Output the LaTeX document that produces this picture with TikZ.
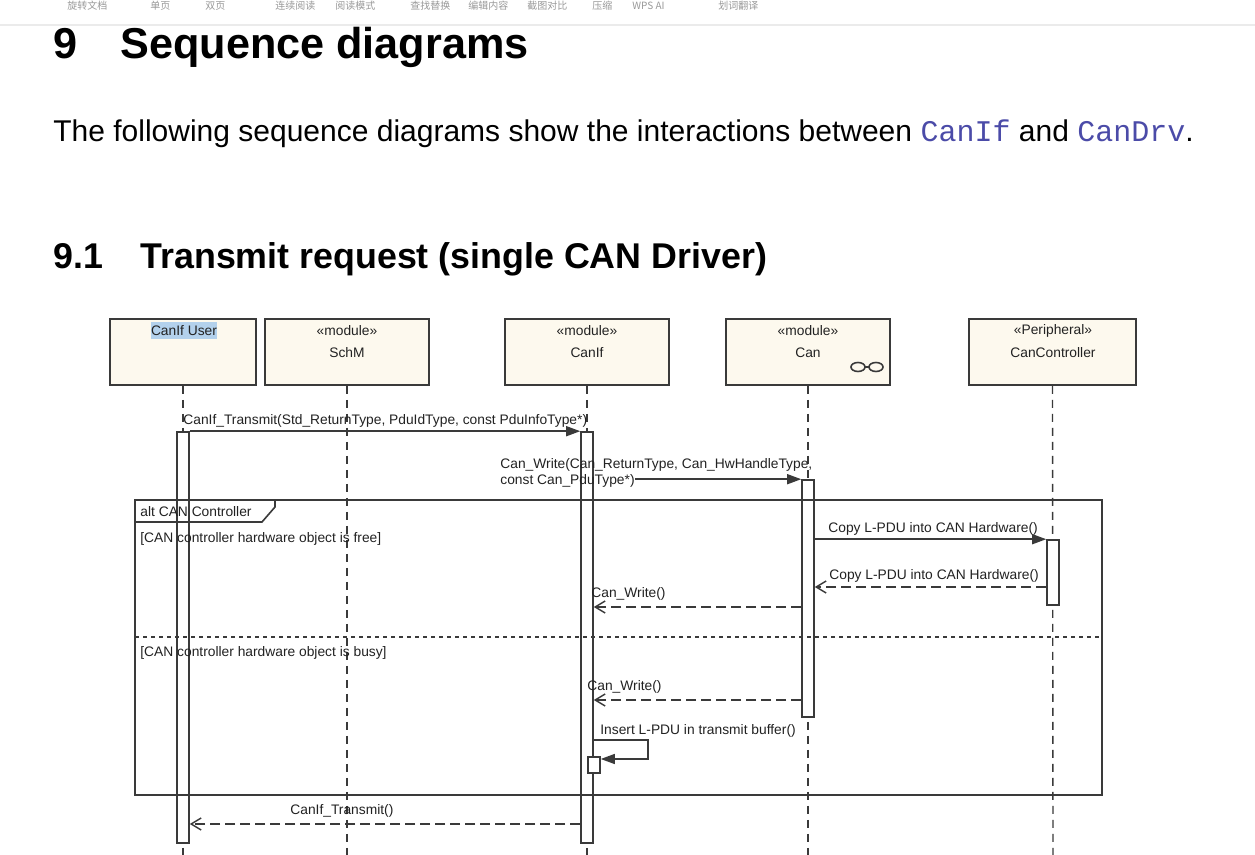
\documentclass[tikz,border=0pt]{standalone}
\usepackage{fontspec}
\setmainfont{Liberation Sans}
\newfontfamily\monofont{Liberation Mono}
\newfontfamily\cjk{Noto Sans CJK SC}
\usetikzlibrary{arrows.meta}
\definecolor{boxfill}{HTML}{FDF9EE}
\definecolor{boxline}{HTML}{3A3A3A}
\definecolor{linec}{HTML}{3A3A3A}
\definecolor{textc}{HTML}{222222}
\definecolor{codec}{HTML}{4B4BA8}
\definecolor{hl}{HTML}{B3D1EC}
\begin{document}
\begin{tikzpicture}[x=0.5pt,y=-0.5pt,
  txt/.style={font=\fontsize{6.9}{8}\selectfont, text=textc, inner sep=0pt},
  lbl/.style={txt, anchor=base west},
  lifebox/.style={draw=boxline, line width=0.9pt, fill=boxfill, inner sep=0pt, minimum height=33pt},
  lifeline/.style={draw=linec, line width=0.7pt, dash pattern=on 4pt off 3pt},
  actbar/.style={draw=linec, line width=0.8pt, fill=white, minimum width=6pt, inner sep=0pt},
  msg/.style={draw=linec, line width=0.7pt, -{Triangle[length=7pt,width=5pt]}},
  ret/.style={draw=linec, line width=0.7pt, dash pattern=on 5pt off 2.5pt, -{Straight Barb[length=5pt,width=6pt]}},
  frame/.style={draw=linec, line width=0.8pt},
  sepline/.style={draw=linec, line width=0.6pt, dash pattern=on 2pt off 2pt},
  tool/.style={font=\cjk\fontsize{5}{6}\selectfont, text=black!40, anchor=base west, inner sep=0pt},
  h1/.style={font=\fontsize{21.6}{25}\selectfont\bfseries, anchor=base west, inner sep=0pt},
  h2/.style={font=\fontsize{17.9}{21}\selectfont\bfseries, anchor=base west, inner sep=0pt},
  bodyt/.style={font=\fontsize{15}{18}\selectfont, anchor=base west, inner sep=0pt},
]
\useasboundingbox (0,0) rectangle (1255,855);
\fill[white] (0,0) rectangle (1255,855);

% toolbar remnant
\node[tool] (t1) at (67,10) {旋转文档};
\node[tool] (t2) at (150,10) {单页};
\node[tool] (t3) at (205,10) {双页};
\node[tool] (t4) at (275,10) {连续阅读};
\node[tool] (t5) at (335,10) {阅读模式};
\node[tool] (t6) at (410,10) {查找替换};
\node[tool] (t7) at (468,10) {编辑内容};
\node[tool] (t8) at (527,10) {截图对比};
\node[tool] (t9) at (592,10) {压缩};
\node[tool] (t10) at (632,10) {WPS AI};
\node[tool] (t11) at (718,10) {划词翻译};
\draw[black!8, line width=0.6pt] (0,25) -- (1255,25);

% headings
\node[h1] (h1n) at (53,59) {9};
\node[h1] (h1t) at (120,59) {Sequence diagrams};
\node[bodyt] (body) at (53,142) {The following sequence diagrams show the interactions between {\monofont\color{codec}CanIf} and {\monofont\color{codec}CanDrv}.};
\node[h2] (h2n) at (53,269) {9.1};
\node[h2] (h2t) at (140,269) {Transmit request (single CAN Driver)};

% lifeline heads
\node[lifebox, minimum width=73pt] (user) at (183,352) {};
\node[lifebox, minimum width=82pt] (schm) at (347,352) {};
\node[lifebox, minimum width=82pt] (canif) at (587,352) {};
\node[lifebox, minimum width=82pt] (can) at (808,352) {};
\node[lifebox, minimum width=83.5pt] (ctrl) at (1052.5,352) {};

\fill[hl] (151,322) rectangle (217,339);
\node[txt] (userN) at (184,330.5) {CanIf User};
\node[txt] (schmS) at (347,330.5) {«module»};
\node[txt] (schmN) at (347,353) {SchM};
\node[txt] (canifS) at (587,330.5) {«module»};
\node[txt] (canifN) at (587,353) {CanIf};
\node[txt] (canS) at (808,330.5) {«module»};
\node[txt] (canN) at (808,353) {Can};
\node[txt] (ctrlS) at (1053,330.5) {«Peripheral»};
\node[txt] (ctrlN) at (1053,353) {CanController};
\draw[linec, line width=0.8pt] (858,367) ellipse [x radius=7, y radius=4.5];
\draw[linec, line width=0.8pt] (876,367) ellipse [x radius=7, y radius=4.5];
\draw[linec, line width=0.8pt] (865,367) -- (869,367);

% lifelines
\coordinate (userE) at (183,855);
\coordinate (schmE) at (347,855);
\coordinate (canifE) at (587,855);
\coordinate (canE) at (808,855);
\coordinate (ctrlE) at (1053,855);
\draw[lifeline] (user.south) -- (userE);
\draw[lifeline] (schm.south) -- (schmE);
\draw[lifeline] (canif.south) -- (canifE);
\draw[lifeline] (can.south) -- (canE);
\draw[lifeline] (ctrl.south) -- (ctrlE);

% activation bars
\node[actbar, minimum height=205.5pt] (userAct) at (183,637.5) {};
\node[actbar, minimum height=205.5pt] (canifAct) at (587,637.5) {};
\node[actbar, minimum height=118.5pt] (canAct) at (808,598.5) {};
\node[actbar, minimum height=32.5pt] (ctrlAct) at (1053,572.5) {};
\node[actbar, minimum height=8pt] (selfAct) at (594,765) {};

% alt frame
\draw[frame] (135,500) rectangle (1102,795);
\draw[frame] (135,522) -- (262,522) -- (275,507) -- (275,500);
\node[lbl] (altL) at (140,517) {alt CAN Controller};
\node[lbl] (g1) at (140,543) {[CAN controller hardware object is free]};
\draw[sepline] (135,637) -- (1102,637);
\node[lbl] (g2) at (140,657) {[CAN controller hardware object is busy]};

% messages
\node[lbl] (m1) at (183,425) {CanIf\_Transmit(Std\_ReturnType, PduIdType, const PduInfoType*)};
\draw[msg] (userAct.north east) -- (canifAct.north west);

\node[lbl] (m2a) at (500,469) {Can\_Write(Can\_ReturnType, Can\_HwHandleType,};
\node[lbl] (m2b) at (500,485) {const Can\_PduType*)};
\draw[msg] (m2b.east |- canAct.north) -- (canAct.north west);

\node[lbl] (m3) at (828,533) {Copy L-PDU into CAN Hardware()};
\draw[msg] (canAct.east |- ctrlAct.north) -- (ctrlAct.north west);

\coordinate (y4) at (0,587);
\node[lbl] (m4) at (829,580) {Copy L-PDU into CAN Hardware()};
\draw[ret] (ctrlAct.west |- y4) -- (canAct.east |- y4);

\coordinate (y5) at (0,607);
\node[lbl] (m5) at (591,598) {Can\_Write()};
\draw[ret] (canAct.west |- y5) -- (canifAct.east |- y5);

\coordinate (y6) at (0,700);
\node[lbl] (m6) at (587,691) {Can\_Write()};
\draw[ret] (canAct.west |- y6) -- (canifAct.east |- y6);

\coordinate (loopR) at (648,740);
\coordinate (y7) at (0,759);
\node[lbl] (m7) at (600,735) {Insert L-PDU in transmit buffer()};
\draw[msg] (canifAct.east |- loopR) -- (loopR) -- (loopR |- y7) -- (selfAct.east |- y7);

\coordinate (y8) at (0,824);
\node[lbl] (m8) at (290,815) {CanIf\_Transmit()};
\draw[ret] (canifAct.west |- y8) -- (userAct.east |- y8);
\end{tikzpicture}
\end{document}
